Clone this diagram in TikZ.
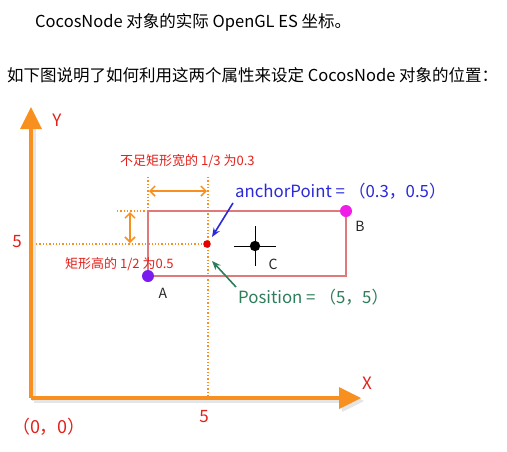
\documentclass[tikz,border=0pt]{standalone}
\usepackage{fontspec}
\setmainfont{Noto Sans CJK SC}
\usetikzlibrary{arrows.meta}
\definecolor{axisor}{HTML}{F7901E}
\definecolor{lblred}{HTML}{E3201B}
\definecolor{rectred}{HTML}{E07A7A}
\definecolor{ablue}{HTML}{2A2AD8}
\definecolor{agreen}{HTML}{2E7D5B}
\definecolor{ptA}{HTML}{7A1CF0}
\definecolor{ptB}{HTML}{F01CE8}
\begin{document}
\begin{tikzpicture}[x=1pt,y=-1pt,
  txt/.style={inner sep=0pt,anchor=west},
  hdr/.style={txt,font=\fontsize{16.5}{19}\selectfont,text=black},
  redlbl/.style={txt,font=\fontsize{13}{15}\selectfont,text=lblred},
  biglbl/.style={inner sep=0pt,font=\fontsize{17}{19}\selectfont,text=lblred},
  ptlbl/.style={inner sep=0pt,font=\fontsize{14}{16}\selectfont,text=black!85},
  shadow/.style={draw=black!10,line width=4.5pt},
  axisline/.style={draw=axisor,line width=4.5pt},
  axishead/.style={fill=axisor},
  guide/.style={draw=axisor,line width=1.3pt,dotted},
  dimarrow/.style={draw=axisor,line width=1.5pt,{Straight Barb[length=5pt,width=10pt]}-{Straight Barb[length=5pt,width=10pt]}},
  callout/.style={line width=1.6pt,-{Stealth[length=9pt,width=7pt]}},
]
\useasboundingbox (0,0) rectangle (507,451);
\fill[white] (0,0) rectangle (507,451);

% header text
\node[hdr] (h1) at (35,22) {CocosNode 对象的实际 OpenGL ES 坐标。};
\node[hdr] (h2) at (7,75) {如下图说明了如何利用这两个属性来设定 CocosNode 对象的位置：};

% axes
\coordinate (O) at (31,398);
\coordinate (ytop) at (31,126);
\coordinate (xend) at (342,398);
\draw[shadow] (34,401) -- (34,129) (34,401) -- (345,401);
\fill[black!10] (364,401) -- (342,390) -- (342,412) -- cycle;
\draw[axisline] (O) -- (ytop);
\draw[axisline] (O) -- (xend);
\fill[axishead] (31,107) -- (20,129) -- (42,129) -- cycle;
\fill[axishead] (361,398) -- (339,387) -- (339,409) -- cycle;
\node[biglbl] (ylbl) at (57,120) {Y};
\node[biglbl] (xlbl) at (367,383) {X};
\node[biglbl,font=\fontsize{18}{20}\selectfont] (orig) at (49,427) {（0，0）};
\node[biglbl] (x5) at (204,417) {5};
\node[biglbl] (y5) at (17,242) {5};

% guide lines
\coordinate (P) at (207,244);
\draw[guide] (36,244) -- (P);
\draw[guide] (208,177) -- (208,396);
\draw[guide] (148,177) -- (148,211);
\draw[guide] (117,211) -- (148,211);

% rectangle
\draw[draw=rectred,line width=1.5pt] (148,211) rectangle (346,276);

% dimension arrows
\draw[dimarrow] (149,191) -- (207,191);
\draw[dimarrow] (130,212) -- (130,243);

% points
\fill[ptB] (346,211) circle (6);
\fill[ptA] (148,276) circle (6);
\fill[red!90!black] (P) circle (3.8);
\draw[black,line width=0.9pt] (234,246) -- (276,246) (255,226) -- (255,266);
\fill[black] (255,246) circle (5.2);
\node[ptlbl] (B) at (360,226) {B};
\node[ptlbl] (A) at (163,293) {A};
\node[ptlbl] (C) at (273,264) {C};

% annotations
\node[redlbl] (wnote) at (120,161) {不足矩形宽的 1/3 为0.3};
\node[redlbl] (hnote) at (65,264) {矩形高的 1/2 为0.5};
\node[txt,font=\fontsize{16.8}{18}\selectfont,text=ablue] (anch) at (235,191) {anchorPoint = （0.3，0.5）};
\node[txt,font=\fontsize{16.8}{18}\selectfont,text=agreen] (pos) at (238,297) {Position = （5，5）};
\draw[callout,ablue] (233,203) -- (212,237);
\draw[callout,agreen] (236,287) -- (212,261);
\end{tikzpicture}
\end{document}
